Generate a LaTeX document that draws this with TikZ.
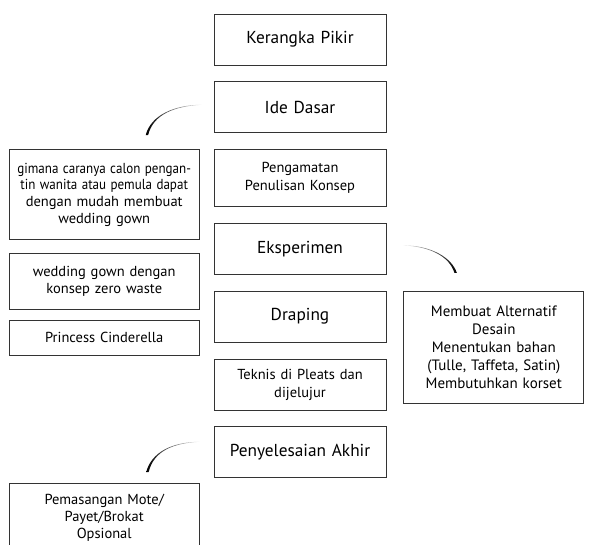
\documentclass[tikz,border=0pt]{standalone}
\usepackage{fontspec}
\usepackage{graphicx}
\setmainfont{PT Sans}
\usetikzlibrary{positioning,calc,chains}
\tikzset{
    langkah/.style={
        rectangle,
        draw=black!80, line width=0.8pt,
        minimum width=172pt,
        minimum height=51pt,
        text width=164pt,
        inner sep=4pt,
        align=center,
        font=\fontsize{17.3}{19}\selectfont,
        on chain
    },
    kecil/.style={font=\fontsize{14.5}{18}\selectfont},
    catatan/.style={
        rectangle,
        draw=black!80, line width=0.8pt,
        minimum width=190pt,
        text width=184pt,
        inner sep=3pt,
        align=center,
        font=\fontsize{14.5}{17}\selectfont
    },
    sapuan kiri/.style={left color=black, middle color=black!85, right color=black!10},
    sapuan kanan/.style={left color=black!10, middle color=black!85, right color=black}
}

\begin{document}
\begin{tikzpicture}[start chain=going below, node distance=16pt]
    \useasboundingbox (0,0) rectangle (589pt,-545pt);

    \node[langkah, at={(300pt,-39.5pt)}] (kerangka) {Kerangka Pikir};
    \node[langkah] (ide) {Ide Dasar};
    \node[langkah, kecil, minimum height=57pt] (peng) {Pengamatan\\Penulisan Konsep};
    \node[langkah] (eksp) {Eksperimen};
    \node[langkah] (drap) {Draping};
    \node[langkah, kecil] (teknis) {Teknis di Pleats dan\\dijelujur};
    \node[langkah] (peny) {Penyelesaian Akhir};

    \node[catatan, minimum height=90pt, font=\fontsize{14.5}{16.7}\selectfont,
          left=14pt of peng.north west, anchor=north east] (gimana)
        {\scalebox{0.9}[1]{gimana caranya calon pengan-}\\\scalebox{0.9}[1]{tin wanita atau pemula dapat}\\dengan mudah membuat\\wedding gown};
    \node[catatan, minimum height=56pt, below=13pt of gimana] (konsep) {wedding gown dengan\\konsep zero waste};
    \node[catatan, minimum height=35pt, below=10pt of konsep] (tema) {Princess Cinderella};

    \node[catatan, text width=174pt, minimum width=180pt, minimum height=112pt,
          font=\fontsize{15}{18}\selectfont,
          right=17pt of drap.north east, anchor=north west] (bahan)
        {Membuat Alternatif\\Desain\\Menentukan bahan\\(Tulle, Taffeta, Satin)\\Membutuhkan korset};

    \node[catatan, minimum height=68pt, below left=5pt and 14pt of peny.south west] (mote)
        {Pemasangan Mote/\\Payet/Brokat\\Opsional};

    % goresan
    \coordinate (ideA) at ($(ide.west)+(-12pt,2.5pt)$);
    \coordinate (ideB) at ($(gimana.north)+(41.5pt,14pt)$);
    \shade[sapuan kiri] (ideA) .. controls ($(ideA)+(-27pt,0pt)$) and ($(ideB)+(5pt,20pt)$) .. (ideB)
        -- ($(ideB)+(2.4pt,0pt)$) .. controls ($(ideB)+(7.5pt,21pt)$) and ($(ideA)+(-27pt,-1.4pt)$) .. (ideA) -- cycle;

    \coordinate (ekspA) at ($(eksp.east)+(17pt,3.5pt)$);
    \coordinate (ekspB) at ($(bahan.north)+(-37pt,18pt)$);
    \shade[sapuan kanan] (ekspA) .. controls ($(ekspA)+(28pt,0pt)$) and ($(ekspB)+(-5pt,15pt)$) .. (ekspB)
        -- ($(ekspB)+(-2.4pt,0pt)$) .. controls ($(ekspB)+(-7.5pt,16pt)$) and ($(ekspA)+(28pt,-1.4pt)$) .. (ekspA) -- cycle;

    \coordinate (penyA) at ($(peny.west)+(-14pt,10.5pt)$);
    \coordinate (penyB) at ($(mote.north)+(42pt,11pt)$);
    \shade[sapuan kiri] (penyA) .. controls ($(penyA)+(-27pt,0pt)$) and ($(penyB)+(5pt,20pt)$) .. (penyB)
        -- ($(penyB)+(2.4pt,0pt)$) .. controls ($(penyB)+(7.5pt,21pt)$) and ($(penyA)+(-27pt,-1.4pt)$) .. (penyA) -- cycle;
\end{tikzpicture}
\end{document}
